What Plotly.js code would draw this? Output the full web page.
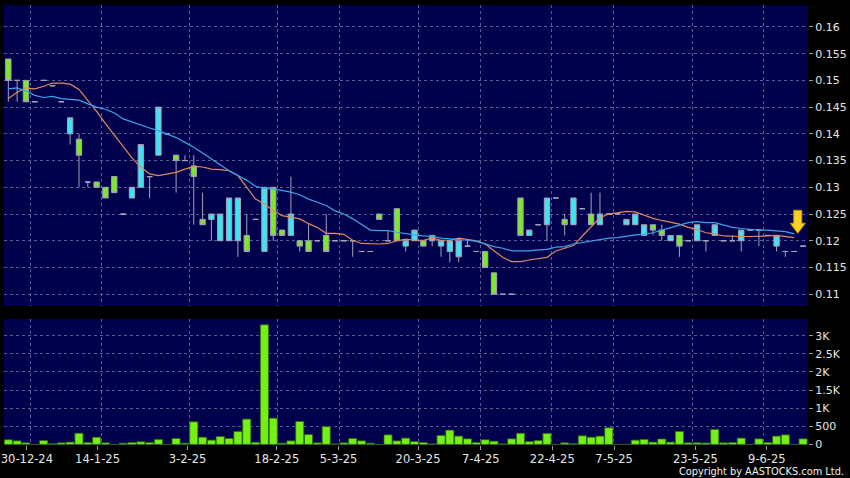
<!DOCTYPE html>
<html><head><meta charset="utf-8">
<script src="https://cdn.plot.ly/plotly-3.0.1.min.js"></script>
<style>html,body{margin:0;padding:0;background:#000;}#chart{width:850px;height:478px;}</style>
</head><body><div id="chart"></div>
<script>
// ---- data (one entry per trading session) ----
const openP = [
.154,.150,.150,.146,.150,.149,.146,.140,.139,.131,
.131,.130,.132,.125,.128,.130,.132,.136,.140,.136,
.135,.134,.124,.124,.120,.120,.120,.121,.124,.118,
.130,.122,.121,.120,.120,.120,.121,.120,.120,.120,
.118,.118,.125,.120,.126,.119,.120,.120,.121,.119,
.118,.117,.119,.118,.118,.114,.110,.110,.128,.121,
.123,.123,.128,.124,.123,.126,.125,.123,.125,.125,
.123,.123,.121,.123,.122,.120,.121,.120,.120,.120,
.121,.120,.120,.120,.122,.122,.121,.119,.118,.118,.119];
const highP = [
.154,.150,.150,.146,.150,.149,.146,.143,.140,.131,
.131,.130,.132,.125,.130,.138,.132,.145,.140,.136,
.136,.136,.129,.125,.125,.128,.128,.125,.124,.130,
.130,.122,.132,.120,.123,.120,.125,.120,.120,.120,
.118,.118,.125,.122,.126,.120,.122,.120,.121,.120,
.120,.120,.120,.118,.118,.114,.110,.110,.128,.122,
.123,.128,.128,.125,.128,.126,.129,.129,.125,.125,
.124,.125,.123,.123,.123,.121,.121,.120,.123,.120,
.123,.120,.121,.122,.122,.122,.121,.121,.118,.118,.119];
const lowP = [
.146,.146,.146,.146,.150,.149,.146,.138,.130,.130,
.130,.128,.129,.125,.128,.130,.128,.136,.140,.129,
.135,.123,.123,.120,.120,.120,.117,.118,.124,.118,
.120,.121,.121,.118,.118,.120,.118,.120,.120,.117,
.118,.118,.124,.120,.120,.118,.120,.119,.119,.117,
.116,.116,.119,.118,.115,.110,.110,.110,.121,.121,
.123,.120,.128,.121,.123,.126,.123,.123,.125,.125,
.123,.123,.121,.121,.120,.120,.117,.120,.120,.118,
.121,.120,.120,.118,.122,.119,.121,.118,.117,.118,.119];
const closeP = [
.150,.150,.146,.146,.150,.149,.146,.143,.136,.131,
.130,.128,.129,.125,.130,.138,.132,.145,.140,.135,
.135,.132,.123,.125,.125,.128,.128,.118,.124,.130,
.121,.121,.125,.119,.118,.120,.118,.120,.120,.120,
.118,.118,.124,.120,.120,.120,.122,.119,.120,.120,
.120,.120,.119,.118,.115,.110,.110,.110,.121,.122,
.123,.128,.128,.123,.128,.126,.123,.125,.125,.125,
.124,.125,.123,.122,.121,.121,.119,.120,.123,.120,
.123,.120,.120,.122,.122,.122,.121,.121,.118,.118,.119];
const volume = [
130,100,45,0,110,20,45,65,310,55,
200,45,0,35,55,75,55,140,0,165,
35,625,200,120,220,165,360,700,60,3300,
725,35,100,635,275,45,490,15,45,165,
100,35,0,265,100,175,80,55,15,250,
395,230,155,55,130,90,15,155,310,80,
110,305,0,45,20,240,200,230,460,0,
0,120,140,65,150,65,360,45,45,40,
415,45,55,175,0,155,55,230,265,0,155];
const ma10 = [
.1466,.1478,.1486,.1484,.1489,.1495,.1495,.1493,.1483,.1463,
.1442,.1419,.1397,.1375,.1355,.1338,.1325,.1322,.1325,.1328,
.1334,.1339,.1338,.1334,.1333,.1331,.1322,.1300,.1278,.1269,
.1256,.1247,.1244,.1241,.1232,.1225,.1214,.1214,.1212,.1201,
.1195,.1194,.1194,.1195,.1200,.1203,.1201,.1201,.1205,.1201,
.1201,.1205,.1203,.1200,.1194,.1182,.1169,.1161,.1161,.1164,
.1166,.1169,.1181,.1186,.1191,.1209,.1226,.1243,.1250,.1253,
.1255,.1254,.1248,.1242,.1238,.1234,.1231,.1225,.1221,.1215,
.1213,.1209,.1208,.1208,.1208,.1208,.1209,.1210,.1208,.1206];
const ma20 = [
.1484,.1486,.1480,.1472,.1468,.1470,.1466,.1464,.1463,.1456,
.1450,.1446,.1439,.1428,.1422,.1417,.1411,.1406,.1400,.1393,
.1384,.1375,.1364,.1353,.1341,.1331,.1322,.1313,.1302,.1298,
.1297,.1294,.1291,.1286,.1278,.1272,.1266,.1256,.1250,.1241,
.1230,.1220,.1219,.1219,.1216,.1213,.1211,.1209,.1208,.1205,
.1204,.1203,.1201,.1199,.1194,.1189,.1186,.1181,.1181,.1181,
.1183,.1184,.1188,.1189,.1194,.1197,.1200,.1203,.1205,.1206,
.1209,.1211,.1212,.1215,.1220,.1225,.1229,.1234,.1236,.1234,
.1234,.1229,.1225,.1223,.1221,.1220,.1220,.1218,.1217,.1213];
const dateLabels = ['30-12-24','14-1-25','3-2-25','18-2-25','5-3-25','20-3-25','7-4-25','22-4-25','7-5-25','23-5-25','9-6-25'];
const dateLabelIdx = [2.1,10.1,20.3,30.4,37.4,46.4,53.5,61.6,68.6,77.8,85.9];
const dateGridIdx = [2.5,10.5,20.5,30.5,37.5,46.5,53.5,61.5,68.5,77.5,85.5];
const priceTicks = [0.11,0.115,0.12,0.125,0.13,0.135,0.14,0.145,0.15,0.155,0.16];
const priceTickText = ['0.11','0.115','0.12','0.125','0.13','0.135','0.14','0.145','0.15','0.155','0.16'];
const volTicks = [0,500,1000,1500,2000,2500,3000];
const volTickText = ['0','500','1K','1.5K','2K','2.5K','3K'];

// ---- chart ----
const idx = openP.map((_, i) => i);
const maIdx = ma10.map((_, i) => i);
const FONT = 'DejaVu Sans';
const GRID = '#5c5c94';
const candleLine = '#a4a4b8';

const traces = [
  {type:'candlestick', x:idx, open:openP, high:highP, low:lowP, close:closeP,
   xaxis:'x', yaxis:'y', whiskerwidth:0, hoverinfo:'skip', showlegend:false,
   increasing:{fillcolor:'#3ee4f0', line:{color:candleLine, width:1}},
   decreasing:{fillcolor:'#7ce82a', line:{color:candleLine, width:1}}},
  {type:'scatter', mode:'lines', x:maIdx, y:ma10, xaxis:'x', yaxis:'y',
   line:{color:'#e08a5c', width:1.2}, hoverinfo:'skip', showlegend:false},
  {type:'scatter', mode:'lines', x:maIdx, y:ma20, xaxis:'x', yaxis:'y',
   line:{color:'#3aa4ea', width:1.2}, hoverinfo:'skip', showlegend:false},
  {type:'bar', x:idx, y:volume, xaxis:'x2', yaxis:'y2',
   marker:{color:'#74f014', line:{color:'#2e6410', width:0.8}},
   hoverinfo:'skip', showlegend:false},
  {type:'scatter', mode:'markers', x:[], y:[], xaxis:'x3', yaxis:'y2', showlegend:false, hoverinfo:'skip'}
];

const xRange = [-0.49, 90.56];
const gridAx = {range:xRange, tickmode:'array', tickvals:dateGridIdx, showticklabels:false,
  ticks:'', showgrid:true, gridcolor:GRID, gridwidth:1, griddash:'3px,3px',
  zeroline:false, showline:false, fixedrange:true};

const layout = {
  width:850, height:478,
  margin:{l:4, r:42, t:5, b:33},
  paper_bgcolor:'#000', plot_bgcolor:'#00004c',
  showlegend:false, bargap:0.08, boxgap:0.2, boxgroupgap:0.25,
  xaxis: Object.assign({}, gridAx, {anchor:'y', rangeslider:{visible:false}}),
  xaxis2: Object.assign({}, gridAx, {anchor:'y2'}),
  xaxis3: {range:xRange, overlaying:'x2', anchor:'y2', side:'bottom',
    tickmode:'array', tickvals:dateLabelIdx, ticktext:dateLabels,
    ticks:'outside', ticklen:4, tickcolor:'#9a9a9a', showgrid:false, zeroline:false, showline:false,
    ticklabelstandoff:-1,
    tickfont:{family:FONT, size:11.5, color:'#e6e6e6'}, fixedrange:true},
  yaxis: {domain:[0.3159,1], anchor:'x', side:'right', range:[0.1078,0.1641],
    tickmode:'array', tickvals:priceTicks, ticktext:priceTickText,
    ticks:'outside', ticklen:4, tickcolor:'#9a9a9a',
    showgrid:true, gridcolor:GRID, gridwidth:1, griddash:'3px,3px',
    zeroline:false, showline:false, tickfont:{family:FONT, size:11, color:'#e6e6e6'}, fixedrange:true},
  yaxis2: {domain:[0,0.2864], anchor:'x2', side:'right', range:[-15,3460],
    tickmode:'array', tickvals:volTicks, ticktext:volTickText,
    ticks:'outside', ticklen:4, tickcolor:'#9a9a9a',
    showgrid:true, gridcolor:GRID, gridwidth:1, griddash:'3px,3px',
    zeroline:false, showline:false, tickfont:{family:FONT, size:11, color:'#e6e6e6'}, fixedrange:true},
  shapes: [
    {type:'path', xref:'x', yref:'y', xsizemode:'pixel', ysizemode:'pixel',
     xanchor:89.4, yanchor:0.1214, layer:'above',
     path:'M0,0 L-7.5,10 L-4,10 L-4,23 L4,23 L4,10 L7.5,10 Z',
     fillcolor:'#ffd21f', line:{color:'#d09000', width:1}}
  ],
  annotations: [
    {text:'Copyright by AASTOCKS.com Ltd.', xref:'paper', yref:'paper', x:1.0473, y:-0.0607,
     xanchor:'right', yanchor:'middle', showarrow:false,
     font:{family:FONT, size:9.8, color:'#f0f0f0'}}
  ]
};

Plotly.newPlot('chart', traces, layout, {displayModeBar:false, staticPlot:true});
</script>
</body></html>
